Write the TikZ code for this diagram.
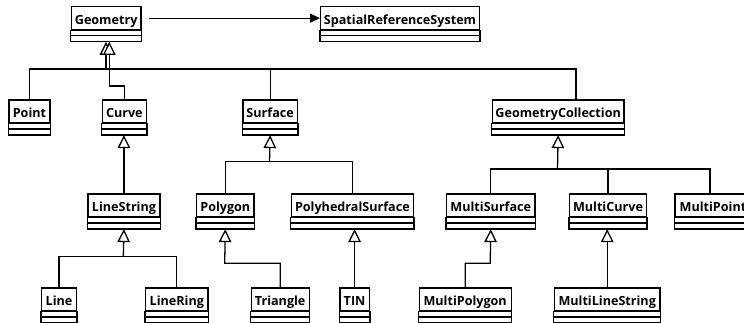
\documentclass[tikz,border=0pt]{standalone}
\usepackage{fontspec}
\setmainfont{Open Sans}
\usetikzlibrary{arrows.meta,calc}
\tikzset{
  cls/.style={draw, line width=1.3pt, inner sep=0pt, minimum height=23pt,
    text height=14.5pt, text depth=1.5pt, font=\fontsize{12.6}{14}\selectfont\bfseries},
  clsline/.style={line width=1.3pt},
  conn/.style={line width=1.3pt},
  gen/.style={line width=1.3pt, -{Triangle[open, length=13pt, width=12.5pt, fill=white]}},
  assoc/.style={line width=1.3pt, -{Triangle[length=10pt, width=9pt]}},
}
\newcommand\umlcls[5]{%
  \node[cls, minimum width=#4pt, anchor=north west] (#1) at (#2,#3) {#5};
  \draw[clsline] (#1.south west) rectangle ([yshift=-11.5pt]#1.south east);
  \draw[clsline] ([yshift=-5.5pt]#1.south west) -- ([yshift=-5.5pt]#1.south east);
  \coordinate (#1-b) at ([yshift=-11.5pt]#1.south);
}
\begin{document}
\begin{tikzpicture}[x=1pt, y=-1pt]
\fill[white] (0,0) rectangle (744,322);
\clip (0,0) rectangle (744,322);
% classes
\umlcls{geom}{70.7}{6}{69.6}{Geometry}
\umlcls{srs}{320}{6}{158.7}{SpatialReferenceSystem}
\umlcls{point}{8.3}{99.3}{41}{Point}
\umlcls{curve}{101.7}{99.3}{44}{Curve}
\umlcls{surface}{242.3}{99.3}{54.4}{Surface}
\umlcls{gc}{491.7}{99.3}{131.6}{GeometryCollection}
\umlcls{ls}{87.3}{193.3}{72}{LineString}
\umlcls{polygon}{196}{193.3}{57.3}{Polygon}
\umlcls{polysurf}{290.7}{193.3}{122}{PolyhedralSurface}
\umlcls{msurf}{446}{193.3}{88.3}{MultiSurface}
\umlcls{mcurve}{569}{193.3}{76.7}{MultiCurve}
\umlcls{mpoint}{674.3}{193.3}{76}{MultiPoint\hspace{4pt}}
\umlcls{line}{41}{287.3}{34.7}{Line}
\umlcls{linering}{145}{287.3}{62.3}{LineRing}
\umlcls{triangle}{250.5}{287.3}{58}{Triangle}
\umlcls{tin}{339.2}{287.3}{29.5}{TIN}
\umlcls{mpoly}{418.5}{287.3}{92}{MultiPolygon}
\umlcls{mls}{553.8}{287.3}{105.5}{MultiLineString}
% junctions
\coordinate (geom-bus) at (106,69);
\coordinate (geom-step) at (109.3,86);
\coordinate (gc-t) at (576,99.3);
\coordinate (surf-bus) at (269.5,161.7);
\coordinate (gc-bus) at (557.5,169);
\coordinate (ls-bus) at (123.3,256.7);
\coordinate (poly-step) at (224.7,263.3);
\coordinate (ms-step) at (490.2,263.3);
\coordinate (mp-t) at (710,193.3);
% association
\draw[assoc] ([xshift=7pt]geom.east) -- (srs.west);
% Geometry children
\draw[conn] (point.north) |- (geom-bus);
\draw[conn] (surface.north) |- (geom-bus);
\draw[conn] (gc-t) |- (geom-bus);
\draw[gen] (geom-bus) -- (geom-bus |- geom-b);
\draw[gen] (curve.north) |- (geom-step) -- (geom-step |- geom-b);
% Curve
\draw[gen] (ls.north) -- (ls.north |- curve-b);
% LineString
\draw[conn] (line.north) |- (ls-bus);
\draw[conn] (linering.north) |- (ls-bus);
\draw[gen] (ls-bus) -- (ls-b);
% Surface
\draw[conn] (polygon.north) |- (surf-bus);
\draw[conn] (polysurf.north) |- (surf-bus);
\draw[gen] (surf-bus) -- (surface-b);
% Polygon, PolyhedralSurface
\draw[gen] (triangle.north) |- (poly-step) -- (polygon-b);
\draw[gen] (tin.north) -- (tin.north |- polysurf-b);
% GeometryCollection
\draw[conn] (msurf.north) |- (gc-bus);
\draw[conn] (mcurve.north) |- (gc-bus);
\draw[conn] (mp-t) |- (gc-bus);
\draw[gen] (gc-bus) -- (gc-b);
% MultiSurface, MultiCurve
\draw[gen] (mpoly.north) |- (ms-step) -- (msurf-b);
\draw[gen] (mls.north) -- (mls.north |- mcurve-b);
\end{tikzpicture}
\end{document}
